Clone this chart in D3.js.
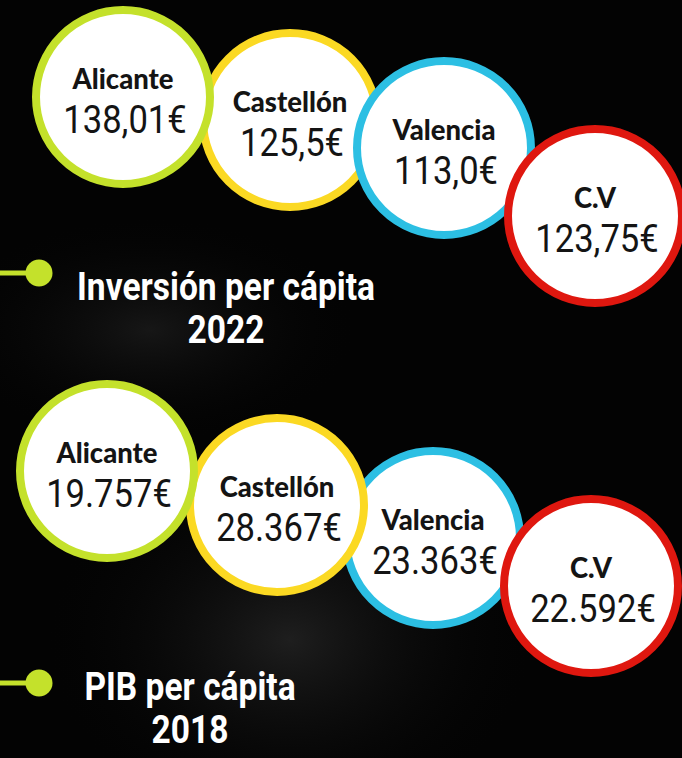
<!DOCTYPE html>
<html>
<head>
<meta charset="utf-8">
<script src="https://cdn.jsdelivr.net/npm/d3@7"></script>
<style>
  html, body { margin: 0; padding: 0; background: #000; }
  svg { display: block; }
</style>
</head>
<body>
<svg id="chart" width="682" height="758"></svg>
<script>
// Inversión / PIB per cápita -- provincias C.V

var categories = ["Alicante", "Castellón", "Valencia", "C.V"];
var inversion2022 = [138.01, 125.5, 113.0, 123.75];
var inversionDecimals = [2, 1, 1, 2];
var pib2018 = [19757, 28367, 23363, 22592];
var titles = [["Inversión per cápita", "2022"], ["PIB per cápita", "2018"]];

var colors = ["#c4e12b", "#fbd923", "#2cbfe3", "#df170f"];

var es = d3.formatLocale({decimal: ",", thousands: ".", grouping: [3], currency: ["", "€"]});

var labelFont = "Lato, 'Noto Sans', sans-serif";
var valueFont = "Roboto, 'Noto Sans', sans-serif";
var titleFont = "Roboto, 'Noto Sans', sans-serif";

///////////////////////////////////////////////////////////////////////////////
// Layout for each block

var blocks = [
  {
    values: inversion2022.map(function (v, i) { return es.format("." + inversionDecimals[i] + "f")(v) + "€"; }),
    x: d3.scaleOrdinal().domain(categories).range([123, 290, 444, 595]),
    y: d3.scaleOrdinal().domain(categories).range([97, 120, 148, 216]),
    order: ["Castellón", "Alicante", "Valencia", "C.V"],
    title: titles[0], titleX: 226, titleY: 300, bulletY: 273
  },
  {
    values: pib2018.map(function (v) { return es.format(",.0f")(v) + "€"; }),
    x: d3.scaleOrdinal().domain(categories).range([107, 277, 433, 591]),
    y: d3.scaleOrdinal().domain(categories).range([471, 505, 538, 586]),
    order: ["Valencia", "Castellón", "Alicante", "C.V"],
    title: titles[1], titleX: 190, titleY: 700, bulletY: 683
  }
];

var color = d3.scaleOrdinal().domain(categories).range(colors);
var svg = d3.select("#chart");

///////////////////////////////////////////////////////////////////////////////
// Background glow

var defs = svg.append("defs");
var glow = defs.append("radialGradient").attr("id", "glow");
glow.append("stop").attr("offset", "0%").attr("stop-color", "#2a2a2a");
glow.append("stop").attr("offset", "100%").attr("stop-color", "#000").attr("stop-opacity", 0);

svg.append("rect").attr("width", 682).attr("height", 758).attr("fill", "#030303");
svg.append("ellipse").attr("cx", 290).attr("cy", 640).attr("rx", 260).attr("ry", 200)
  .attr("fill", "url(#glow)").attr("opacity", 0.7);
svg.append("ellipse").attr("cx", 150).attr("cy", 330).attr("rx", 220).attr("ry", 120)
  .attr("fill", "url(#glow)").attr("opacity", 0.5);

///////////////////////////////////////////////////////////////////////////////
// Circles + titles

blocks.forEach(function (b) {
  var g = svg.append("g");

  var bubbles = g.selectAll("g.bubble")
    .data(b.order.map(function (c) { return {cat: c, value: b.values[categories.indexOf(c)]}; }))
    .enter().append("g")
    .attr("class", "bubble")
    .attr("transform", function (d) { return "translate(" + b.x(d.cat) + "," + b.y(d.cat) + ")"; });

  bubbles.append("circle")
    .attr("r", 87)
    .attr("fill", "#fff")
    .attr("stroke", function (d) { return color(d.cat); })
    .attr("stroke-width", 8);

  bubbles.append("text")
    .attr("text-anchor", "middle")
    .attr("transform", "translate(0,-8) scale(0.98,1)")
    .style("font-family", labelFont)
    .style("font-weight", 900)
    .style("font-size", "28px")
    .attr("fill", "#141414")
    .text(function (d) { return d.cat; });

  // values: narrow the glyphs a bit, the source font is tighter than Roboto
  bubbles.append("text")
    .attr("text-anchor", "middle")
    .attr("transform", "translate(2,36) scale(0.91,1)")
    .style("font-family", valueFont)
    .style("font-weight", 400)
    .style("font-size", "38px")
    .attr("fill", "#141414")
    .text(function (d) { return d.value; });

  // bullet
  g.append("line")
    .attr("x1", 0).attr("x2", 38)
    .attr("y1", b.bulletY).attr("y2", b.bulletY)
    .attr("stroke", colors[0]).attr("stroke-width", 5);
  g.append("circle")
    .attr("cx", 39).attr("cy", b.bulletY).attr("r", 13.5)
    .attr("fill", colors[0]);

  g.selectAll("text.title")
    .data(b.title)
    .enter().append("text")
    .attr("class", "title")
    .attr("text-anchor", "middle")
    .attr("transform", function (d, i) {
      return "translate(" + b.titleX + "," + (b.titleY + i * 43) + ") scale(0.86,1)";
    })
    .style("font-family", titleFont)
    .style("font-weight", 700)
    .style("font-size", "39px")
    .attr("fill", "#fff")
    .text(function (d) { return d; });
});
</script>
</body>
</html>
